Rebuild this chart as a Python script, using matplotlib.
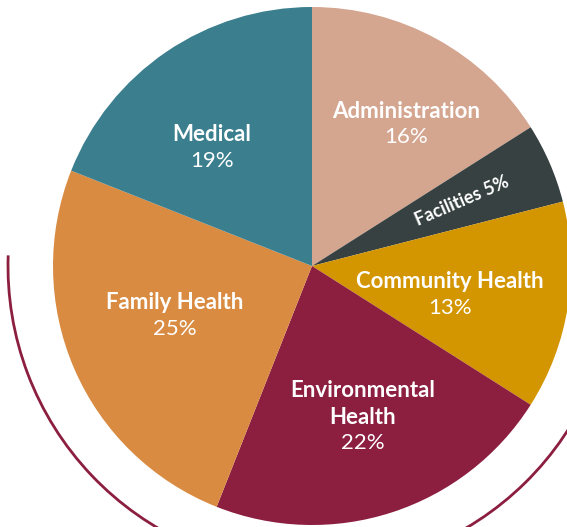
import numpy as np
import matplotlib.pyplot as plt
from matplotlib.patches import Arc

categories = ["Administration", "Facilities", "Community Health",
              "Environmental\nHealth", "Family Health", "Medical"]
shares = [16, 5, 13, 22, 25, 19]
colors = ["#D4A690", "#374141", "#D39500", "#8C1E40", "#D98B42", "#3B7F8F"]

# label placement (fraction of radius, angle nudge in degrees)
label_r = [0.67, 0.63, 0.54, 0.60, 0.56, 0.61]
label_nudge = [-4, 0, -1, 1, -5, 5]

W, H = 567, 527
cx, cy, R = 312, H - 266, 259

fig = plt.figure(figsize=(W / 100, H / 100), dpi=100)
ax = fig.add_axes([0, 0, 1, 1])

wedges, _ = ax.pie(shares, colors=colors, startangle=90, counterclock=False,
                   center=(cx, cy), radius=R)

ax.add_patch(Arc((cx, cy), 2 * 304, 2 * 304, theta1=178, theta2=360,
                 color="#8C1E40", lw=2))

line_gap = 19
for w, name, pct, fr, dn in zip(wedges, categories, shares, label_r, label_nudge):
    mid = np.deg2rad((w.theta1 + w.theta2) / 2 + dn)
    x = cx + fr * R * np.cos(mid)
    y = cy + fr * R * np.sin(mid)
    if name == "Facilities":
        ax.text(x, y, f"{name} {pct}%", color="white", fontsize=13,
                fontweight="bold", family="Lato", ha="center", va="center",
                rotation=np.rad2deg(mid))
        continue
    lines = name.split("\n") + [f"{pct}%"]
    n = len(lines)
    for i, t in enumerate(lines):
        off = ((n - 1) / 2 - i) * line_gap - 3
        ax.annotate(t, (x, y), xytext=(0, off), textcoords="offset points",
                    color="white", fontsize=16, family="Lato",
                    fontweight="bold" if i < n - 1 else "normal",
                    ha="center", va="center")

ax.set_xlim(0, W)
ax.set_ylim(0, H)
ax.set_aspect("equal")
ax.axis("off")

plt.savefig("out.png", dpi=100)
plt.close()
